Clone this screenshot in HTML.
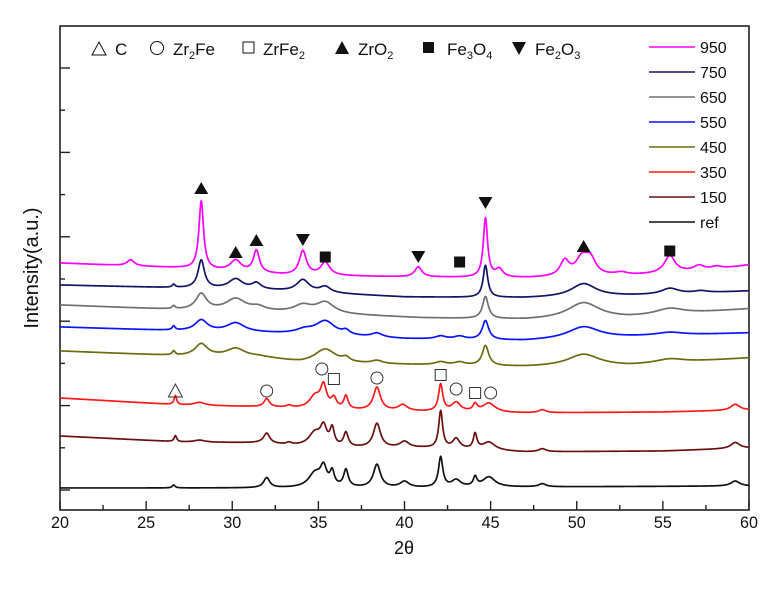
<!DOCTYPE html>
<html><head><meta charset="utf-8">
<style>
html,body{margin:0;padding:0;background:#fff;}
svg{display:block;font-family:"Liberation Sans",Arial,sans-serif;}
</style></head>
<body>
<svg id="chart" width="783" height="608" viewBox="0 0 783 608">
  <rect x="60" y="26" width="689" height="484" fill="#fff" stroke="#222" stroke-width="1.6"/>
  <g id="ticks"></g>
  <g id="series"></g>
  <g id="markers"></g>
  <text x="38" y="268" font-size="20" text-anchor="middle" transform="rotate(-90 38 268)" fill="#111">Intensity(a.u.)</text>
  <text x="404" y="554" font-size="18" text-anchor="middle" fill="#111">2θ</text>
  <g id="xlabels"></g>
  <g font-size="17" fill="#111">
    <polygon points="92,55 106,55 99,42" fill="none" stroke="#111" stroke-width="1"/>
    <text x="115" y="55">C</text>
    <circle cx="157" cy="48" r="6.5" fill="none" stroke="#111" stroke-width="1"/>
    <text x="173" y="55">Zr<tspan font-size="11" dy="4">2</tspan><tspan dy="-4">Fe</tspan></text>
    <rect x="243" y="42" width="11" height="11" fill="none" stroke="#111" stroke-width="1"/>
    <text x="263" y="55">ZrFe<tspan font-size="11" dy="4">2</tspan></text>
    <polygon points="335,54 349,54 342,41" fill="#111"/>
    <text x="358" y="55">ZrO<tspan font-size="11" dy="4">2</tspan></text>
    <rect x="423" y="42" width="11" height="11" fill="#111"/>
    <text x="447" y="55">Fe<tspan font-size="11" dy="4">3</tspan><tspan dy="-4">O</tspan><tspan font-size="11" dy="4">4</tspan></text>
    <polygon points="512,42 526,42 519,55" fill="#111"/>
    <text x="535" y="55">Fe<tspan font-size="11" dy="4">2</tspan><tspan dy="-4">O</tspan><tspan font-size="11" dy="4">3</tspan></text>
  </g>
  <g id="legend"></g>
</svg>
<script>
// ---- data ----
const seriesNames = ["950","750","650","550","450","350","150","ref"];
const seriesColors = ["#ff00ff","#141466","#707070","#0a14ff","#6b6b10","#ff1a1a","#6b1010","#111111"];
// baseline knots: [2theta, intensity]
const base950 = [[20,247],[27,242],[33,235],[40,233],[47,232],[53,234],[58,240],[60,245]];
const base750 = [[20,225],[27,222],[31.6,220],[40,213],[47,212],[55,215],[60,219]];
const base650 = [[20,205],[27,200],[31.6,198],[34,197],[41,192],[47,190],[53,192],[60,201]];
const base550 = [[20,183],[27,179],[31.6,177],[40,171],[47,169],[55,174],[60,177]];
const base450 = [[20,159],[27,154],[31.6,153],[34,147],[41,145],[47,143],[53,144],[60,152]];
const base350 = [[20,112],[27,105],[32,103],[36,100],[42,98],[47,97],[55,98],[60,100]];
const base150 = [[20,74],[27,68],[31.6,67],[35,62],[41,62],[47,58],[55,59],[60,62]];
const baseRef = [[20,22],[31,22],[35,22],[40,22],[47,23],[60,24]];
// peaks: [center 2theta, height, half-width]
const peaks950 = [[24.1,6,0.2],[28.2,68,0.13],[30.2,11,0.3],[31.4,22,0.17],[34.1,24,0.2],[35.4,13,0.25],[40.8,10,0.2],[44.7,59,0.12],[45.5,8,0.2],[49.3,15,0.25],[50.3,17,0.35],[50.8,15,0.3],[52.6,3,0.4],[55.4,17,0.3],[57.1,5,0.3],[58.1,3,0.3]];
const peaks750 = [[26.6,3,0.08],[28.2,28,0.18],[30.2,10,0.4],[31.4,6,0.25],[34.1,12,0.35],[35.4,6,0.3],[44.7,32,0.13],[50.4,13,0.7],[55.4,6,0.5],[57.2,2,0.4]];
const peaks650 = [[26.6,3,0.08],[28.2,16,0.3],[30.2,12,0.55],[31.5,4,0.4],[34.1,7,0.5],[35.4,11,0.5],[44.7,22,0.16],[50.4,16,0.9],[55.4,6,0.8]];
const peaks550 = [[26.6,4,0.08],[28.2,11,0.35],[30.2,9,0.5],[34.2,4,0.5],[35.4,14,0.55],[36.6,4,0.2],[38.4,4,0.3],[42.1,3,0.3],[43.2,3,0.3],[44.7,19,0.18],[50.4,12,0.9],[55.4,3,0.8]];
const peaks450 = [[26.6,4,0.08],[28.2,12,0.35],[30.2,8,0.5],[35.4,14,0.6],[36.6,4,0.2],[38.4,3,0.3],[42.1,3,0.3],[43.2,3,0.3],[44.7,20,0.18],[50.4,12,0.9],[55.4,4,0.8]];
const peaks350 = [[26.7,9,0.07],[28.1,3,0.3],[32,8,0.15],[33.3,2,0.15],[34.8,12,0.3],[35.3,22,0.17],[35.9,10,0.15],[36.6,13,0.12],[38.4,23,0.2],[39.9,6,0.25],[42.1,27,0.12],[43,9,0.25],[44.1,7,0.12],[44.9,9,0.35],[48,3,0.2],[59.2,6,0.25]];
const peaks150 = [[26.7,6,0.07],[28.1,2,0.3],[32,10,0.17],[33.3,2,0.15],[34.8,14,0.35],[35.3,18,0.18],[35.8,17,0.12],[36.6,14,0.13],[38.4,24,0.2],[40,6,0.25],[42.1,37,0.11],[43,10,0.2],[44.1,15,0.1],[44.9,8,0.35],[48,3,0.2],[59.2,6,0.25]];
const peaksRef = [[26.6,3,0.08],[32,10,0.17],[34.8,14,0.35],[35.3,18,0.18],[35.8,14,0.12],[36.6,17,0.13],[38.4,23,0.2],[40,6,0.25],[42.1,30,0.12],[43,7,0.25],[44.1,9,0.1],[44.9,10,0.35],[48,3,0.2],[59.2,5,0.25]];
const allBases = [base950,base750,base650,base550,base450,base350,base150,baseRef];
const allPeaks = [peaks950,peaks750,peaks650,peaks550,peaks450,peaks350,peaks150,peaksRef];
// phase markers: [symbol, 2theta, intensity]
const markerData = [["tri",28.2,322],["tri",30.2,258],["tri",31.4,270],["itri",34.1,270],["sq",35.4,253],["itri",40.8,253],["sq",43.2,248],["itri",44.7,307],["tri",50.4,264],["sq",55.4,259],
 ["otri",26.7,119],["circ",32,119],["circ",35.2,141],["osq",35.9,131],["circ",38.4,132],["osq",42.1,135],["circ",43,121],["osq",44.1,117],["circ",45,117]];
const xTicks = [20,25,30,35,40,45,50,55,60];

// ---- scales ----
const X0=60,X1=749,Y0=510,Y1=26;
const WIDTH_FACTOR=1.25;
const xs = v => X0 + (v-20)/(60-20)*(X1-X0);
const ys = v => Y0 - v/484*(Y0-Y1);
const NS="http://www.w3.org/2000/svg";
function mk(tag,attrs,parent){const e=document.createElementNS(NS,tag);for(const k in attrs)e.setAttribute(k,attrs[k]);parent.appendChild(e);return e;}
function baseAt(b,t){for(let i=0;i<b.length-1;i++){if(t<=b[i+1][0]){const f=(t-b[i][0])/(b[i+1][0]-b[i][0]);return b[i][1]+f*(b[i+1][1]-b[i][1]);}}return b[b.length-1][1];}

const tg=document.getElementById('ticks');
for(let v=20;v<=60;v+=2.5){const major=(v%5===0);const x=xs(v);
  const t=mk('line',{x1:x,x2:x,y1:Y0,y2:Y0-(major?9:5),stroke:'#222','stroke-width':1.4},tg);
  
  }
for(let i=0;i<11;i++){const y=68+i*42.2;if(y>=Y0)break;const major=(i%2===0);
  const t=mk('line',{x1:X0,x2:X0+(major?10:5),y1:y,y2:y,stroke:'#222','stroke-width':1.4},tg);
  
  }
const xl=document.getElementById('xlabels');
xTicks.forEach(v=>{const t=mk('text',{x:xs(v),y:528,'font-size':17,'text-anchor':'middle',fill:'#111',textLength:18,lengthAdjust:'spacingAndGlyphs'},xl);t.textContent=v;
  
  });

const sg=document.getElementById('series');
for(let s=allPeaks.length-1;s>=0;s--){
  let d='';
  for(let t=20;t<=60.0001;t+=0.02){
    let v=baseAt(allBases[s],t);
    allPeaks[s].forEach(p=>{const u=(t-p[0])/(p[2]*WIDTH_FACTOR);v+=p[1]/(1+u*u);});
    d+=(d?'L':'M')+xs(t).toFixed(2)+','+ys(v).toFixed(2);
  }
  const p=mk('path',{d:d,fill:'none',stroke:seriesColors[s],'stroke-width':1.7,'stroke-linejoin':'round'},sg);
  
  
}

const mg=document.getElementById('markers');
markerData.forEach(m=>{const x=xs(m[1]),y=ys(m[2]);let e;
  if(m[0]==='tri') e=mk('polygon',{points:`${x-7},${y+6} ${x+7},${y+6} ${x},${y-6}`,fill:'#111'},mg);
  else if(m[0]==='itri') e=mk('polygon',{points:`${x-7},${y-6} ${x+7},${y-6} ${x},${y+6}`,fill:'#111'},mg);
  else if(m[0]==='sq') e=mk('rect',{x:x-5.5,y:y-5.5,width:11,height:11,fill:'#111'},mg);
  else if(m[0]==='otri') e=mk('polygon',{points:`${x-7},${y+6} ${x+7},${y+6} ${x},${y-7}`,fill:'none',stroke:'#333','stroke-width':1},mg);
  else if(m[0]==='osq') e=mk('rect',{x:x-5.5,y:y-5.5,width:11,height:11,fill:'none',stroke:'#333','stroke-width':1},mg);
  else e=mk('circle',{cx:x,cy:y,r:6,fill:'none',stroke:'#333','stroke-width':1},mg);
  
  });

const lg=document.getElementById('legend');
seriesNames.forEach((n,i)=>{const y=47+i*25;
  const l=mk('line',{x1:649,x2:695,y1:y,y2:y,stroke:seriesColors[i],'stroke-width':1.6},lg);
  
  
  const t=mk('text',{x:700,y:y+6,'font-size':16,fill:'#111'},lg);t.textContent=n;
  
  });
</script>
</body></html>
